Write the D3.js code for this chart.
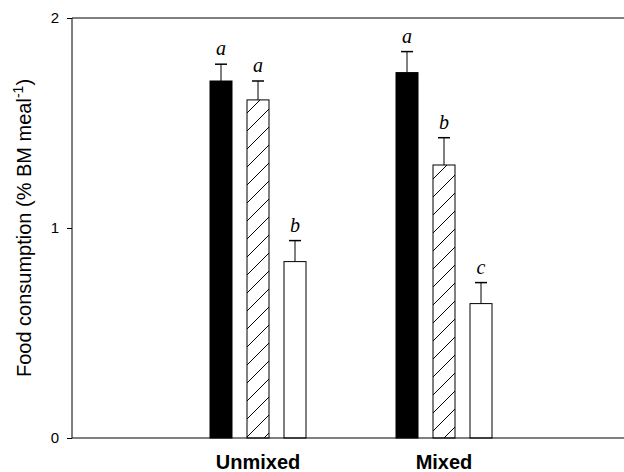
<!DOCTYPE html>
<html lang="en">
<head>
<meta charset="UTF-8">
<title>Food consumption</title>
<style>
    body { margin: 0; background: #fff; }
    svg { display: block; }
</style>
</head>
<body>
<div id="chart"></div>
<script src="https://cdn.jsdelivr.net/npm/d3@7"></script>
<script>
    // data
    var groups = ["Unmixed", "Mixed"];
    var treatments = ["solid", "hatched", "open"];
    var means = {
        Unmixed: [1.70, 1.61, 0.84],
        Mixed:   [1.74, 1.30, 0.64]
    };
    var errors = {
        Unmixed: [0.08, 0.09, 0.10],
        Mixed:   [0.10, 0.13, 0.10]
    };
    var letters = {
        Unmixed: ["a", "a", "b"],
        Mixed:   ["a", "b", "c"]
    };
    var yTicks = [0, 1, 2];

    var width = 624, height = 472;
    var plotLeft = 72, plotTop = 18, plotBottom = 438;
    var barW = 22;

    var svg = d3.select("#chart").append("svg")
        .attr("width", width)
        .attr("height", height);

    var defs = svg.append("defs");
    var pat = defs.append("pattern")
        .attr("id", "hatch")
        .attr("patternUnits", "userSpaceOnUse")
        .attr("width", 18)
        .attr("height", 18);
    pat.append("rect").attr("width", 18).attr("height", 18).attr("fill", "#fff");
    pat.append("path")
        .attr("d", "M-2,2 L2,-2 M0,18 L18,0 M16,20 L20,16")
        .attr("stroke", "#000")
        .attr("stroke-width", 1);

    var x = d3.scaleLinear().domain([0, 3]).range([plotLeft, 630]);
    var xGroup = d3.scaleOrdinal().domain(groups).range([1, 2]);
    var xSub = d3.scalePoint().domain(treatments).range([-37, 37]);
    var y = d3.scaleLinear().domain([0, 2]).range([plotBottom, plotTop]);

    var fills = { solid: "#000", hatched: "url(#hatch)", open: "#fff" };

    var rows = [];
    groups.forEach(function(g) {
        treatments.forEach(function(t, i) {
            rows.push({ g: g, t: t, v: means[g][i], e: errors[g][i], l: letters[g][i] });
        });
    });
    function cx(d) { return x(xGroup(d.g)) + xSub(d.t); }

    // top frame line
    svg.append("line")
        .attr("x1", plotLeft).attr("x2", width)
        .attr("y1", y(2)).attr("y2", y(2))
        .attr("stroke", "#000");

    // error bars (upper only)
    var eb = svg.append("g").selectAll("g").data(rows).enter().append("g");
    eb.append("line")
        .attr("x1", cx).attr("x2", cx)
        .attr("y1", function(d) { return y(d.v); })
        .attr("y2", function(d) { return y(d.v + d.e); })
        .attr("stroke", "#000");
    eb.append("line")
        .attr("x1", function(d) { return cx(d) - 6; })
        .attr("x2", function(d) { return cx(d) + 6; })
        .attr("y1", function(d) { return y(d.v + d.e); })
        .attr("y2", function(d) { return y(d.v + d.e); })
        .attr("stroke", "#000")
        .attr("stroke-width", 1.5);

    svg.append("g").selectAll("rect").data(rows).enter().append("rect")
        .attr("x", function(d) { return cx(d) - barW / 2; })
        .attr("y", function(d) { return y(d.v); })
        .attr("width", barW)
        .attr("height", function(d) { return y(0) - y(d.v); })
        .attr("fill", function(d) { return fills[d.t]; })
        .attr("stroke", "#000")
        .attr("stroke-width", 1);

    svg.append("g").selectAll("text").data(rows).enter().append("text")
        .attr("x", cx)
        .attr("y", function(d) { return y(d.v + d.e) - 9; })
        .attr("text-anchor", "middle")
        .attr("font-family", "Liberation Serif, serif")
        .attr("font-style", "italic")
        .attr("font-size", 20)
        .text(function(d) { return d.l; });

    // y axis
    var yAxis = svg.append("g")
        .attr("transform", "translate(" + plotLeft + ",0)")
        .call(d3.axisLeft(y).tickValues(yTicks).tickSize(5).tickPadding(8).tickFormat(d3.format("d")));
    yAxis.select(".domain").attr("d", "M0," + y(2) + "V" + y(0));
    yAxis.selectAll("text")
        .attr("font-family", "Liberation Sans, Arial, sans-serif")
        .attr("font-size", 15)
        .attr("fill", "#000");

    // x axis line
    svg.append("line")
        .attr("x1", plotLeft).attr("x2", width)
        .attr("y1", y(0)).attr("y2", y(0))
        .attr("stroke", "#000");

    svg.append("g").selectAll("text").data(groups).enter().append("text")
        .attr("x", function(g) { return x(xGroup(g)); })
        .attr("y", 469)
        .attr("text-anchor", "middle")
        .attr("font-family", "Liberation Sans, Arial, sans-serif")
        .attr("font-weight", "bold")
        .attr("font-size", 20)
        .text(function(g) { return g; });

    var yl = svg.append("text")
        .attr("transform", "translate(31,228) rotate(-90)")
        .attr("text-anchor", "middle")
        .attr("font-family", "Liberation Sans, Arial, sans-serif")
        .attr("font-size", 20)
        .attr("fill", "#000");
    yl.append("tspan").text("Food consumption (% BM meal");
    yl.append("tspan").attr("dy", -8).attr("font-size", 14).text("-1");
    yl.append("tspan").attr("dy", 8).text(")");
</script>
</body>
</html>
